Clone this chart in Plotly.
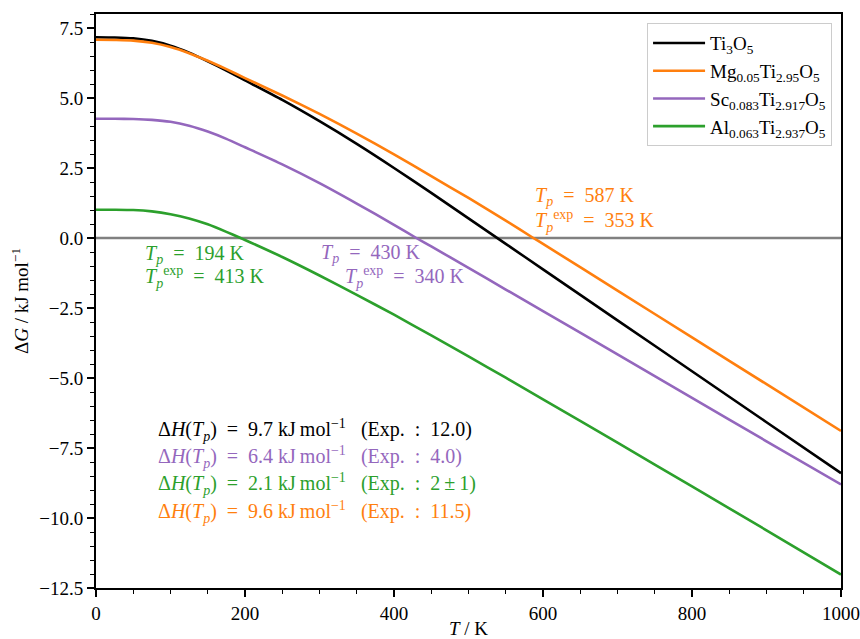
import plotly.graph_objects as go

# Temperature grid (K) and free-energy difference dG (kJ/mol) for each composition
temperature = [0, 25, 50, 75, 100, 125, 150, 175, 200, 250, 300, 350, 400, 450, 500, 550, 600, 700, 800, 900, 1000]

dg_ti3o5 = [7.17, 7.16, 7.13, 7.04, 6.87, 6.62, 6.31, 5.98, 5.63, 4.93, 4.17, 3.36, 2.50, 1.61, 0.70, -0.21, -1.12, -2.94, -4.76, -6.58, -8.40]
dg_mg = [7.08, 7.07, 7.05, 6.97, 6.82, 6.60, 6.33, 6.03, 5.71, 5.09, 4.43, 3.73, 2.99, 2.21, 1.43, 0.62, -0.21, -1.88, -3.55, -5.22, -6.89]
dg_sc = [4.26, 4.26, 4.25, 4.22, 4.15, 4.01, 3.80, 3.54, 3.24, 2.63, 1.96, 1.23, 0.47, -0.30, -1.07, -1.84, -2.61, -4.16, -5.71, -7.26, -8.80]
dg_al = [1.01, 1.01, 1.00, 0.95, 0.85, 0.70, 0.49, 0.22, -0.07, -0.68, -1.34, -2.03, -2.74, -3.48, -4.23, -4.99, -5.76, -7.31, -8.87, -10.44, -12.02]

# Transition temperatures where dG crosses zero (calculated) and experimental values
tp_calc = {"mg": 587, "sc": 430, "al": 194}
tp_exp = {"mg": 353, "sc": 340, "al": 413}

# Transition enthalpies (kJ/mol): calculated and experimental
dh_labels = [
    ("ti3o5", "9.7", "12.0"),
    ("sc", "6.4", "4.0"),
    ("al", "2.1", "2\u2009±\u20091"),
    ("mg", "9.6", "11.5"),
]

names = {
    "ti3o5": "Ti<sub>3</sub>O<sub>5</sub>",
    "mg": "Mg<sub>0.05</sub>Ti<sub>2.95</sub>O<sub>5</sub>",
    "sc": "Sc<sub>0.083</sub>Ti<sub>2.917</sub>O<sub>5</sub>",
    "al": "Al<sub>0.063</sub>Ti<sub>2.937</sub>O<sub>5</sub>",
}
colors = {"ti3o5": "#000000", "mg": "#ff7f0e", "sc": "#9467bd", "al": "#2ca02c"}
series = {"ti3o5": dg_ti3o5, "mg": dg_mg, "sc": dg_sc, "al": dg_al}

FONT = "Liberation Serif"
FS = 19
FS_TXT = 20
EQ = "\u2002=\u2002"

fig = go.Figure()

# Zero reference line
fig.add_trace(go.Scatter(x=[0, 1000], y=[0, 0], mode="lines",
                         line=dict(color="#808080", width=2.5),
                         showlegend=False, hoverinfo="skip"))

for key in ["ti3o5", "mg", "sc", "al"]:
    pts = list(zip(temperature, series[key]))
    if key in tp_calc:
        # zero crossing at the calculated transition temperature
        pts.append((tp_calc[key], 0.0))
        pts.sort(key=lambda p: p[0])
    fig.add_trace(go.Scatter(x=[p[0] for p in pts], y=[p[1] for p in pts], mode="lines",
                             name=names[key],
                             line=dict(color=colors[key], width=2.6, shape="spline", smoothing=0.6)))

# Transition temperature labels
tp_pos = {"mg": ((587, 1.47), (587, 0.61)),
          "al": ((63, -0.58), (63, -1.40)),
          "sc": ((299, -0.55), (331, -1.40))}
for key, (p1, p2) in tp_pos.items():
    fig.add_annotation(x=p1[0], y=p1[1], xanchor="left", yanchor="middle", showarrow=False,
                       text=f"<i>T<sub>p</sub></i>{EQ}{tp_calc[key]} K",
                       font=dict(family=FONT, size=FS_TXT, color=colors[key]))
    fig.add_annotation(x=p2[0], y=p2[1], xanchor="left", yanchor="middle", showarrow=False,
                       text=f"<i>T</i><sub><i>p</i></sub><sup>exp</sup>{EQ}{tp_exp[key]} K",
                       font=dict(family=FONT, size=FS_TXT, color=colors[key]))

# Enthalpy labels
dh_y = [-6.86, -7.82, -8.80, -9.77]
for (key, calc, exp), yy in zip(dh_labels, dh_y):
    fig.add_annotation(x=80, y=yy, xanchor="left", yanchor="middle", showarrow=False,
                       text=(f"Δ<i>H</i>(<i>T<sub>p</sub></i>){EQ}{calc} kJ\u2009mol<sup>−1</sup>"
                             f"\u2002 (Exp.\u2002:\u2002{exp})"),
                       font=dict(family=FONT, size=FS_TXT, color=colors[key]))

axis_common = dict(showline=True, linecolor="black", linewidth=2, mirror=True,
                   ticks="outside", tickwidth=1.5, ticklen=7, tickcolor="black",
                   showgrid=False, zeroline=False, automargin=False,
                   tickfont=dict(family=FONT, size=FS, color="black"))

fig.update_xaxes(range=[0, 1000], tickvals=[0, 200, 400, 600, 800, 1000],
                 minor=dict(dtick=50, ticks="outside", ticklen=4, tickwidth=1.2, tickcolor="black"),
                 title=dict(text="<i>T</i> / K", font=dict(family=FONT, size=FS), standoff=4),
                 **axis_common)
fig.update_yaxes(range=[-12.5, 8.0], tickvals=[-12.5, -10, -7.5, -5, -2.5, 0, 2.5, 5, 7.5],
                 ticktext=["−12.5", "−10.0", "−7.5", "−5.0", "−2.5", "0.0", "2.5", "5.0", "7.5"],
                 minor=dict(dtick=0.5, ticks="outside", ticklen=4, tickwidth=1.2, tickcolor="black"),
                 title=dict(text="Δ<i>G</i> / kJ mol<sup>−1</sup>", font=dict(family=FONT, size=FS), standoff=6),
                 **axis_common)

fig.update_layout(
    width=860, height=639,
    margin=dict(l=96, r=19, t=14, b=51),
    plot_bgcolor="white", paper_bgcolor="white",
    font=dict(family=FONT, size=FS, color="black"),
    legend=dict(x=0.988, y=0.984, xanchor="right", yanchor="top",
                bgcolor="white", bordercolor="#cccccc", borderwidth=1,
                font=dict(family=FONT, size=19), tracegroupgap=0, itemwidth=52),
)

fig.write_html("out.html")
